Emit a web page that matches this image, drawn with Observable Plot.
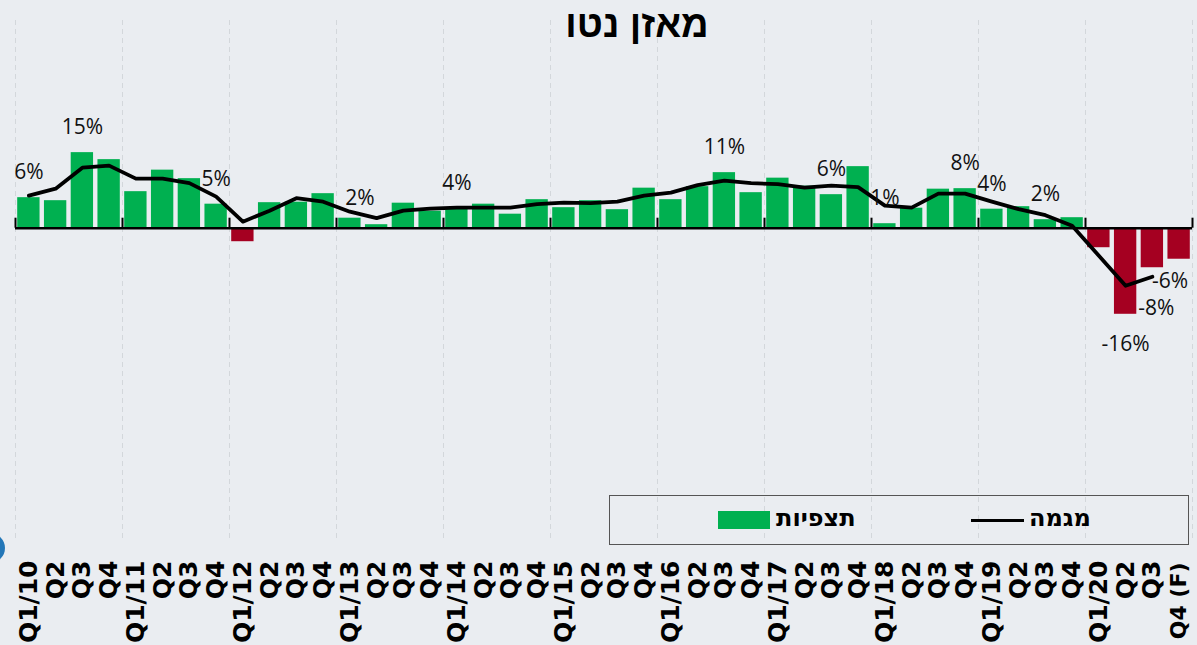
<!DOCTYPE html>
<html>
<head>
<meta charset="utf-8">
<script src="https://cdn.jsdelivr.net/npm/d3@7"></script>
<script src="https://cdn.jsdelivr.net/npm/@observablehq/plot@0.6"></script>
<style>
  html, body { margin: 0; padding: 0; background: #eaedf1; }
  #wrap { position: relative; width: 1197px; height: 645px; overflow: hidden; background: #eaedf1; }
  #title { position: absolute; left: 0; width: 1274px; top: 3px; text-align: center; font-family: "Liberation Sans", Arial, sans-serif; font-weight: bold; font-size: 38px; color: #000; direction: rtl; }
  #legend { position: absolute; left: 609px; top: 495px; width: 580px; height: 50px; border: 1.5px solid #555; box-sizing: border-box; }
  .lg-text { position: absolute; top: 8px; font-family: "DejaVu Sans", sans-serif; font-weight: bold; font-size: 24px; direction: rtl; color: #000; }
  #dot { position: absolute; left: -25px; top: 533px; width: 30px; height: 30px; border-radius: 50%; background: #2377b8; }
</style>
</head>
<body>
<div id="wrap">
  <div id="chart"></div>
  <div id="title">מאזן נטו</div>
  <div id="legend">
    <div style="position:absolute;left:108px;top:15px;width:52px;height:18px;background:#00b050"></div>
    <div class="lg-text" style="left:166px">תצפיות</div>
    <div style="position:absolute;left:361px;top:23px;width:53px;height:3px;background:#000"></div>
    <div class="lg-text" style="left:419px">מגמה</div>
  </div>
  <div id="dot"></div>
</div>
<script>
const quarters = [
  "Q1/10","Q2","Q3","Q4","Q1/11","Q2","Q3","Q4","Q1/12","Q2","Q3","Q4",
  "Q1/13","Q2","Q3","Q4","Q1/14","Q2","Q3","Q4","Q1/15","Q2","Q3","Q4",
  "Q1/16","Q2","Q3","Q4","Q1/17","Q2","Q3","Q4","Q1/18","Q2","Q3","Q4",
  "Q1/19","Q2","Q3","Q4","Q1/20","Q2","Q3","Q4 (F)"
];
const observations = [
  6.1, 5.5, 15.1, 13.7, 7.3, 11.6, 9.9, 4.8,
  -2.7, 5.1, 5.2, 6.9, 2.0, 0.7, 5.0, 3.4,
  3.9, 4.8, 2.8, 5.7, 4.1, 5.5, 3.7, 8.0,
  5.7, 8.3, 11.1, 7.1, 10.0, 8.4, 6.7, 12.3,
  0.9, 4.0, 7.8, 7.9, 3.8, 4.3, 1.7, 2.1,
  -3.9, -17.2, -7.9, -6.2
];
const trend = [
  6.5, 7.9, 12.1, 12.5, 9.9, 9.9, 9.0, 6.3,
  1.3, 3.5, 6.0, 5.3, 3.3, 2.0, 3.5, 3.9,
  4.1, 4.1, 4.1, 4.8, 5.1, 5.0, 5.3, 6.5,
  7.1, 8.6, 9.5, 9.0, 8.8, 8.1, 8.5, 8.2,
  4.5, 4.1, 6.9, 6.9, 5.3, 3.8, 2.6, 0.5,
  -5.5, -11.5, -9.7, null
];
const labelQuarter = [0, 2, 7, 12, 16, 26, 30, 32, 35, 36, 38, 41, 42, 43];
const labelText = ["6%", "15%", "5%", "2%", "4%", "11%", "6%", "1%", "8%", "4%", "2%", "-16%", "-8%", "-6%"];

const green = "#00b050", red = "#a50021";
const data = quarters.map((q, i) => ({i, q, v: observations[i], t: trend[i]}));
const yearStarts = quarters.map((q, i) => q.startsWith("Q1") ? i - 0.5 : null).filter(d => d !== null);
const bounds = [...yearStarts, quarters.length - 0.5];
const labels = labelQuarter.map((i, k) => ({i, v: observations[i], text: labelText[k]}));

// label offsets in pixels (styling only)
const off = {41: [0, 30], 42: [4, 41], 43: [-9, 22], 12: [10, -20]};

const chart = Plot.plot({
  width: 1197,
  height: 645,
  marginLeft: 15,
  marginRight: 5,
  marginTop: 20,
  marginBottom: 107,
  style: {background: "transparent", overflow: "visible"},
  x: {type: "linear", domain: [-0.5, quarters.length - 0.5], axis: null, label: null},
  y: {domain: [-62, 41.5], axis: null, label: null},
  marks: [
    Plot.ruleX(bounds, {x: d => d, stroke: "#d3d7db", strokeWidth: 1, strokeDasharray: "5,4"}),
    Plot.rectY(data, {x1: d => d.i - 0.5, x2: d => d.i + 0.5, y1: 0, y2: "v", fill: d => d.v >= 0 ? green : red, insetLeft: 2.2, insetRight: 2.2}),
    Plot.ruleY([0], {stroke: "#000", strokeWidth: 2.5}),
    Plot.ruleX(bounds, {x: d => d, y1: 0, y2: 2, stroke: "#000", strokeWidth: 2}),
    Plot.line(data.filter(d => d.t !== null), {x: "i", y: "t", stroke: "#000", strokeWidth: 3.8, strokeLinejoin: "round"}),
    ...labels.map(d => {
      const o = off[d.i] || [0, -25];
      return Plot.text([d], {x: "i", y: "v", text: "text", dx: o[0], dy: o[1], fontFamily: "'Open Sans', sans-serif", fontSize: 21, fill: "#111"});
    }),
    Plot.axisX(data.filter(d => d.q.length <= 5).map(d => d.i), {
      tickFormat: i => quarters[i], label: null,
      tickRotate: -90, tickSize: 0, tickPadding: 22,
      fontSize: 25, fontWeight: "bold", fontFamily: "'DejaVu Sans', sans-serif", fill: "#000"
    }),
    Plot.axisX(data.filter(d => d.q.length > 5).map(d => d.i), {
      tickFormat: i => quarters[i], label: null,
      tickRotate: -90, tickSize: 0, tickPadding: 24,
      fontSize: 22, fontWeight: "bold", fontFamily: "'DejaVu Sans', sans-serif", fill: "#000"
    })
  ]
});
document.getElementById("chart").appendChild(chart);
</script>
</body>
</html>
